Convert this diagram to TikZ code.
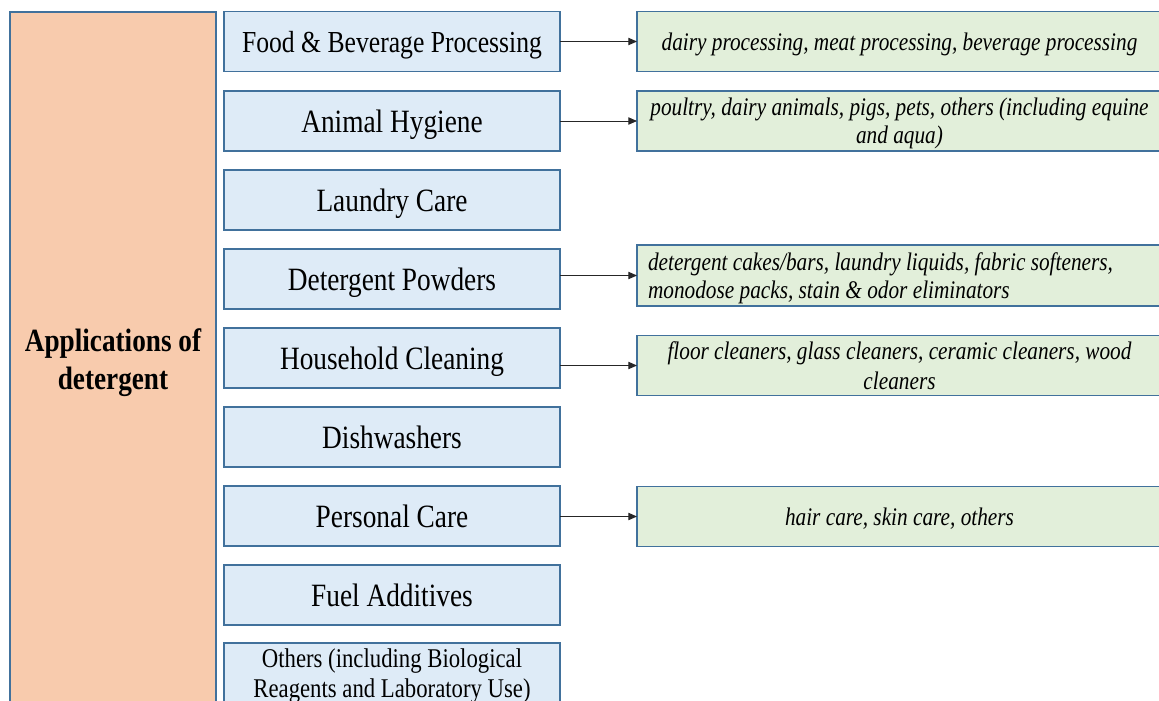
\documentclass[tikz,border=0pt]{standalone}
\usepackage{fontspec}
\setmainfont{Liberation Serif}[FakeStretch=0.84]
\usetikzlibrary{arrows.meta}
\definecolor{bordc}{HTML}{41719C}
\definecolor{orangef}{HTML}{F8CBAD}
\definecolor{bluef}{HTML}{DEEBF7}
\definecolor{greenf}{HTML}{E2EFDA}
\definecolor{arrc}{HTML}{262626}
\tikzset{
  box/.style={draw=bordc, line width=1.1pt, inner sep=0pt, outer sep=0pt},
  catbox/.style={box, text depth=0pt, fill=bluef, minimum width=252pt, minimum height=45pt, align=center,
    font=\fontsize{24.4pt}{28pt}\selectfont},
  detfill/.style={box, fill=greenf, minimum width=393.75pt, minimum height=45pt,
    font=\fontsize{19pt}{21pt}\selectfont\itshape},
  detbox/.style={detfill, text depth=0pt, align=center},
  detboxleft/.style={detfill, align=flush left, inner xsep=8.25pt, text width=377.25pt},
  mainbox/.style={box, text depth=0pt, fill=orangef, minimum width=154.5pt, minimum height=520.5pt, align=center,
    font=\fontsize{24.3pt}{28.5pt}\selectfont\bfseries},
  arr/.style={draw=arrc, line width=0.75pt, -{Triangle[length=6.5pt, width=5.5pt]}}
}
\begin{document}
\begin{tikzpicture}[x=0.75pt, y=-0.75pt]
\useasboundingbox (0,0) rectangle (1159,700);
\clip (0,0) rectangle (1159,700);
\node[mainbox] (main) at (113,359) {Applications of\\detergent};
\node[catbox, font=\fontsize{22.9pt}{28pt}\selectfont] (b1) at (392,41.5) {Food \& Beverage Processing};
\node[catbox] (b2) at (392,121) {Animal Hygiene};
\node[catbox] (b3) at (392,200) {Laundry Care};
\node[catbox] (b4) at (392,279) {Detergent Powders};
\node[catbox] (b5) at (392,358) {Household Cleaning};
\node[catbox] (b6) at (392,437) {Dishwashers};
\node[catbox] (b7) at (392,516) {Personal Care};
\node[catbox] (b8) at (392,595) {Fuel Additives};
\node[catbox, font=\fontsize{20.3pt}{22.5pt}\selectfont] (b9) at (392,673) {Others (including Biological\\Reagents and Laboratory Use)};
\node[detbox] (g1) at (899.5,41.5) {dairy processing, meat processing, beverage processing};
\node[detbox] (g2) at (899.5,121) {poultry, dairy animals, pigs, pets, others (including equine\\and aqua)};
\node[detboxleft, text depth=21pt, minimum height=45.75pt] (g4) at (899.5,275.5) {detergent cakes/bars, laundry liquids, fabric softeners,\\monodose packs, stain \& odor eliminators};
\node[detbox, text depth=-3pt, font=\fontsize{19pt}{22pt}\selectfont\itshape] (g5) at (899.5,365.5) {floor cleaners, glass cleaners, ceramic cleaners, wood\\cleaners};
\node[detbox] (g7) at (899.5,516.5) {hair care, skin care, others};
\draw[arr] (b1.east |- g1.west) -- (g1.west);
\draw[arr] (b2.east |- g2.west) -- (g2.west);
\draw[arr] (b4.east |- g4.west) -- (g4.west);
\draw[arr] (b5.east |- g5.west) -- (g5.west);
\draw[arr] (b7.east |- g7.west) -- (g7.west);
\end{tikzpicture}
\end{document}
